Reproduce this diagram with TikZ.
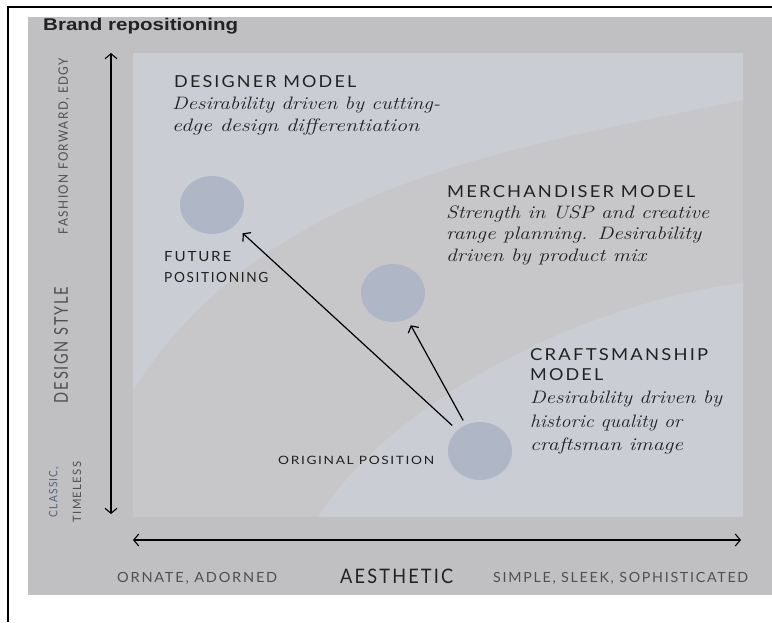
\documentclass[tikz,border=0pt]{standalone}
\usepackage{fontspec}
\usepackage{graphicx}
\usetikzlibrary{arrows.meta,shapes.geometric}
\newfontfamily\capsfont{Lato}[LetterSpace=12]
\newfontfamily\titlefont{Liberation Sans}
\definecolor{panel}{HTML}{C0C0C2}
\definecolor{inner}{HTML}{C7C7C9}
\definecolor{band}{HTML}{CBCDD5}
\definecolor{dot}{HTML}{AFB6C5}
\definecolor{ink}{HTML}{222222}
\definecolor{soft}{HTML}{505052}
\definecolor{cool}{HTML}{56607A}
% stretch a line of text to a given width, keeping its height
\newcommand{\fitw}[2]{\resizebox{#1}{\height}{#2}}
\tikzset{
  caps/.style={anchor=base west, inner sep=0pt, text=ink,
    font=\capsfont\fontsize{16.5}{19}\selectfont},
  script/.style={anchor=base west, inner sep=0pt, text=ink,
    font=\itshape\fontsize{18}{20}\selectfont},
  tag/.style={anchor=base west, inner sep=0pt, text=soft,
    font=\capsfont\fontsize{14}{16}\selectfont},
  sidelabel/.style={anchor=center, inner sep=0pt, rotate=90, text=soft,
    font=\capsfont\fontsize{13}{15}\selectfont},
  spot/.style={ellipse, fill=dot, minimum width=64pt, minimum height=58pt,
    inner sep=0pt},
  axisline/.style={draw=black, line width=1.1pt,
    {Straight Barb[length=5pt,width=12pt]}-{Straight Barb[length=5pt,width=12pt]}},
  moveline/.style={draw=black, line width=1.2pt,
    -{Straight Barb[length=5pt,width=12pt]}},
}
\begin{document}
\begin{tikzpicture}[x=1pt,y=-1pt]
\useasboundingbox (0,0) rectangle (772,622);
\fill[white] (0,0) rectangle (772,622);
% grey board and chart area
\fill[panel] (28,17) rectangle (772,595);
\fill[inner] (133,53) rectangle (743,517);
% upper (designer) band
\fill[band] (133,53) -- (743,53) -- (743,100)
  .. controls (500,150) and (265,185) .. (133,390) -- cycle;
% lower (craftsmanship) band
\fill[band] (318,517) .. controls (400,390) and (600,300) .. (743,283)
  -- (743,517) -- cycle;
% page frame
\draw[line width=2pt] (8,622) -- (8,7) -- (772,7);

% title
\node[anchor=base west, inner sep=0pt, text=ink,
  font=\titlefont\bfseries\fontsize{17}{19}\selectfont] (title) at (43,30)
  {\fitw{195pt}{Brand repositioning}};

% axes
\coordinate (ytop) at (111,53);
\coordinate (ybot) at (111,514);
\coordinate (xleft) at (133,540);
\coordinate (xright) at (741,540);
\draw[axisline] (ybot) -- (ytop);
\draw[axisline] (xleft) -- (xright);

% vertical axis labels
\node[sidelabel] (fashion) at (64,146) {\fitw{176pt}{FASHION FORWARD, EDGY}};
\node[sidelabel, font=\capsfont\fontsize{19}{21}\selectfont] (dstyle) at (61,345)
  {\fitw{116pt}{DESIGN STYLE}};
\node[sidelabel, text=cool, font=\capsfont\fontsize{11.5}{13}\selectfont] (classic) at (54,492)
  {\fitw{50pt}{CLASSIC,}};
\node[sidelabel, font=\capsfont\fontsize{11.5}{13}\selectfont] (timeless) at (77,492)
  {\fitw{61pt}{TIMELESS}};

% horizontal axis labels
\node[tag] (ornate) at (117,582) {\fitw{160pt}{ORNATE, ADORNED}};
\node[tag, text=ink, font=\capsfont\fontsize{20}{22}\selectfont] (aesthetic) at (340,583)
  {\fitw{113pt}{AESTHETIC}};
\node[tag] (simple) at (493,582) {\fitw{255pt}{SIMPLE, SLEEK, SOPHISTICATED}};

% positions
\node[spot] (fut) at (212,205) {};
\node[spot] (mer) at (393,293) {};
\node[spot] (ori) at (480,451) {};
\draw[moveline, shorten <=7pt, shorten >=11pt] (ori) -- (fut);
\draw[moveline, shorten <=5pt, shorten >=7pt] (ori) -- (mer);

\node[tag, text=ink] (future1) at (164,261) {\fitw{67pt}{FUTURE}};
\node[tag, text=ink] (future2) at (164,282) {\fitw{104pt}{POSITIONING}};
\node[tag, text=ink, font=\capsfont\fontsize{11.5}{13}\selectfont] (origin) at (278,464)
  {\fitw{156pt}{ORIGINAL POSITION}};

% designer model
\node[caps] (d1) at (174,87) {\fitw{182pt}{DESIGNER MODEL}};
\node[script] (d2) at (172,109) {\fitw{268pt}{Desirability driven by cutting-}};
\node[script] (d3) at (172,131) {\fitw{247pt}{edge design differentiation}};

% merchandiser model
\node[caps] (m1) at (447,197) {\fitw{248pt}{MERCHANDISER MODEL}};
\node[script] (m2) at (446,218) {\fitw{263pt}{Strength in USP and creative}};
\node[script] (m3) at (446,239) {\fitw{255pt}{range planning. Desirability}};
\node[script] (m4) at (446,261) {\fitw{200pt}{driven by product mix}};

% craftsmanship model
\node[caps] (c1) at (530,360) {\fitw{178pt}{CRAFTSMANSHIP}};
\node[caps] (c2) at (530,380) {\fitw{73pt}{MODEL}};
\node[script] (c3) at (530,403) {\fitw{192pt}{Desirability driven by}};
\node[script] (c4) at (530,427) {\fitw{152pt}{historic quality or}};
\node[script] (c5) at (530,450) {\fitw{153pt}{craftsman image}};
\end{tikzpicture}
\end{document}
